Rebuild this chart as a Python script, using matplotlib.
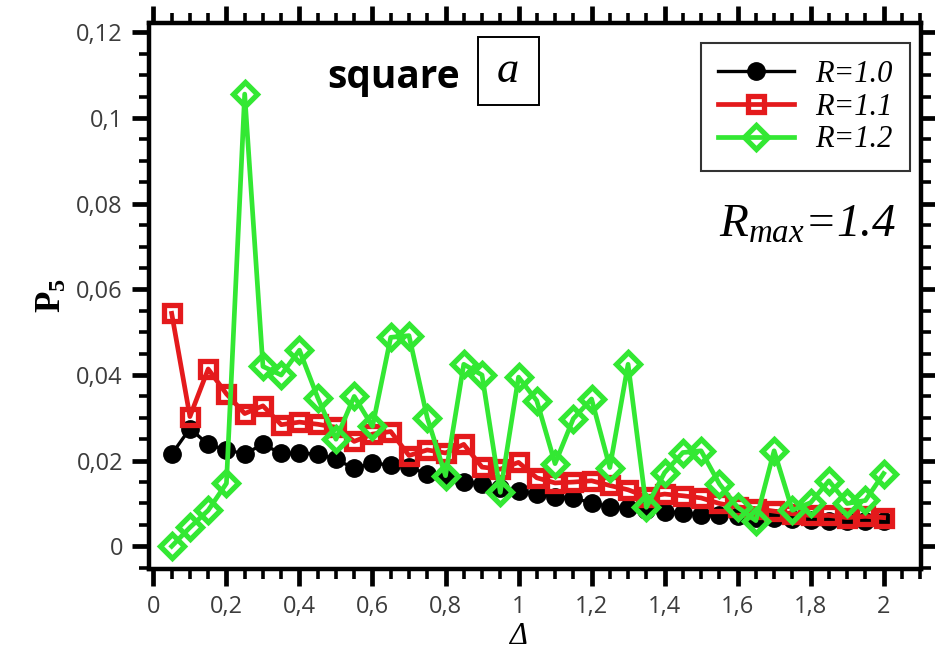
import numpy as np
import matplotlib
matplotlib.use('Agg')
import matplotlib.pyplot as plt
from matplotlib.patches import Rectangle
from matplotlib.ticker import MultipleLocator, FuncFormatter

plt.rcParams['mathtext.fontset'] = 'custom'
plt.rcParams['mathtext.rm'] = 'Liberation Serif'
plt.rcParams['mathtext.it'] = 'Liberation Serif:italic'
plt.rcParams['mathtext.bf'] = 'Liberation Serif:bold'

# Delta values (0.05 .. 2.0)
delta = [0.05, 0.10, 0.15, 0.20, 0.25, 0.30, 0.35, 0.40, 0.45, 0.50,
         0.55, 0.60, 0.65, 0.70, 0.75, 0.80, 0.85, 0.90, 0.95, 1.00,
         1.05, 1.10, 1.15, 1.20, 1.25, 1.30, 1.35, 1.40, 1.45, 1.50,
         1.55, 1.60, 1.65, 1.70, 1.75, 1.80, 1.85, 1.90, 1.95, 2.00]

p5_r10 = [0.0215, 0.0275, 0.0238, 0.0225, 0.0216, 0.0238, 0.0217, 0.0217, 0.0216, 0.0203,
          0.0182, 0.0194, 0.0190, 0.0186, 0.0168, 0.0160, 0.0151, 0.0146, 0.0135, 0.0128,
          0.0123, 0.0114, 0.0112, 0.0102, 0.0092, 0.0089, 0.0085, 0.0081, 0.0078, 0.0074,
          0.0073, 0.0070, 0.0066, 0.0066, 0.0063, 0.0062, 0.0060, 0.0059, 0.0060, 0.0059]

p5_r11 = [0.0544, 0.0303, 0.0414, 0.0356, 0.0310, 0.0328, 0.0284, 0.0290, 0.0285, 0.0278,
          0.0245, 0.0262, 0.0268, 0.0212, 0.0225, 0.0218, 0.0238, 0.0185, 0.0180, 0.0196,
          0.0160, 0.0148, 0.0150, 0.0153, 0.0142, 0.0132, 0.0116, 0.0122, 0.0118, 0.0113,
          0.0100, 0.0092, 0.0088, 0.0082, 0.0076, 0.0072, 0.0072, 0.0067, 0.0070, 0.0067]

p5_r12 = [0.0000, 0.0044, 0.0084, 0.0147, 0.1056, 0.0420, 0.0400, 0.0458, 0.0347, 0.0250,
          0.0350, 0.0280, 0.0488, 0.0492, 0.0300, 0.0165, 0.0425, 0.0400, 0.0126, 0.0395,
          0.0340, 0.0193, 0.0298, 0.0344, 0.0184, 0.0425, 0.0091, 0.0172, 0.0219, 0.0223,
          0.0146, 0.0091, 0.0060, 0.0223, 0.0084, 0.0102, 0.0153, 0.0100, 0.0107, 0.0170]

labels = ['R=1.0', 'R=1.1', 'R=1.2']

fig = plt.figure(figsize=(9.35, 6.52), dpi=100)
ax = fig.add_axes([0.159, 0.1273, 0.8263, 0.8374])

ax.plot(delta, p5_r10, color='black', lw=2.4, marker='o', ms=12.5,
        label=labels[0], zorder=3)
ax.plot(delta, p5_r11, color='#e41a1c', lw=3.4, marker='s', ms=12, mew=3.8,
        mfc='none', label=labels[1], zorder=4)
ax.plot(delta, p5_r12, color='#33e833', lw=3.4, marker='D', ms=12.5, mew=3.8,
        mfc='none', label=labels[2], zorder=5)

ax.set_xlim(-0.013, 2.103)
ax.set_ylim(-0.0053, 0.1222)

ax.xaxis.set_major_locator(MultipleLocator(0.2))
ax.xaxis.set_minor_locator(MultipleLocator(0.05))
ax.yaxis.set_major_locator(MultipleLocator(0.02))
ax.yaxis.set_minor_locator(MultipleLocator(0.005))

def comma_fmt(v, pos):
    s = ('%.2f' % v).rstrip('0').rstrip('.')
    if s == '-0':
        s = '0'
    return s.replace('.', ',')

ax.xaxis.set_major_formatter(FuncFormatter(comma_fmt))
ax.yaxis.set_major_formatter(FuncFormatter(comma_fmt))

for sp in ax.spines.values():
    sp.set_linewidth(3.2)

ax.tick_params(which='both', direction='out', top=True, right=True,
               labeltop=False, labelright=False)
ax.tick_params(which='major', length=12.5, width=3.4, labelsize=17,
               labelcolor='#3c3c3c', pad=6)
ax.tick_params(which='minor', length=7, width=2.6)
for lab in ax.get_xticklabels() + ax.get_yticklabels():
    lab.set_family('Open Sans')

# axis titles
fig.text(0.554, 0.013, 'Δ', fontsize=22, family='Liberation Serif',
         style='italic', ha='center', va='baseline')
ax.set_ylabel(r'$\mathbf{P_5}$', fontsize=25, labelpad=6)

leg = ax.legend(loc='upper right', bbox_to_anchor=(0.985, 0.963),
                prop={'family': 'Liberation Serif', 'style': 'italic', 'size': 22},
                frameon=True, fancybox=False, edgecolor='black',
                handlelength=2.5, labelspacing=0.12, borderpad=0.55,
                handletextpad=0.7, borderaxespad=0)
leg.get_frame().set_linewidth(1.5)

ax.text(0.317, 0.881, 'square', transform=ax.transAxes, fontsize=28,
        fontweight='bold', family='Open Sans', ha='center', va='baseline')
ax.add_patch(Rectangle((0.426, 0.850), 0.079, 0.124, transform=ax.transAxes,
                       fc='white', ec='black', lw=1.4, zorder=6))
ax.text(0.465, 0.892, 'a', transform=ax.transAxes, fontsize=32,
        family='Liberation Serif', style='italic', ha='center', va='baseline',
        zorder=7)

ax.text(0.968, 0.608, r'$R_{max}$=1.4', transform=ax.transAxes, fontsize=34,
        family='Liberation Serif', style='italic', ha='right', va='baseline')

fig.savefig('out.png', dpi=100)
